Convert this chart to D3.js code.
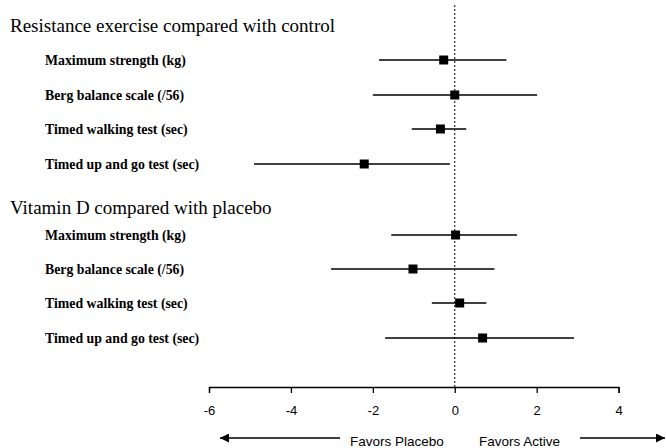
<!DOCTYPE html>
<html><head><meta charset="utf-8">
<script src="https://cdn.jsdelivr.net/npm/d3@7"></script>
<style>body{margin:0;background:#fff}svg{display:block}</style>
</head><body>
<script>
const groupTitles = ["Resistance exercise compared with control", "Vitamin D compared with placebo"];
const outcomes = ["Maximum strength (kg)", "Berg balance scale (/56)", "Timed walking test (sec)", "Timed up and go test (sec)"];
const resistanceEst = [-0.27, 0.0, -0.35, -2.21];
const resistanceLo  = [-1.85, -2.0, -1.05, -4.9];
const resistanceHi  = [1.26, 2.01, 0.28, -0.12];
const vitaminDEst = [0.02, -1.02, 0.12, 0.68];
const vitaminDLo  = [-1.55, -3.02, -0.56, -1.70];
const vitaminDHi  = [1.52, 0.97, 0.77, 2.91];
const xTicks = [-6, -4, -2, 0, 2, 4];
const favorLabels = ["Favors Placebo", "Favors Active"];

const W = 666, H = 448;
const svg = d3.select("body").append("svg").attr("width", W).attr("height", H);

const x = d3.scaleLinear().domain([-6, 4]).range([209, 618.6]);

const rowY = {t0: 25, r0_0: 60, r0_1: 95, r0_2: 129, r0_3: 164,
              t1: 207, r1_0: 235, r1_1: 269, r1_2: 303, r1_3: 338};

// reference line at 0
svg.append("line")
  .attr("x1", x(0)).attr("x2", x(0)).attr("y1", 5).attr("y2", 387)
  .attr("stroke", "#000").attr("stroke-width", 1).attr("stroke-dasharray", "2,2");

const groups = [
  {est: resistanceEst, lo: resistanceLo, hi: resistanceHi},
  {est: vitaminDEst, lo: vitaminDLo, hi: vitaminDHi}
];

groups.forEach((g, gi) => {
  svg.append("text").attr("x", 10).attr("y", rowY["t" + gi]).attr("dy", "0.35em")
    .style("font-family", "'Liberation Serif', 'Times New Roman', serif")
    .style("font-size", "19px").text(groupTitles[gi]);
  const data = outcomes.map((o, i) => ({o, i, est: g.est[i], lo: g.lo[i], hi: g.hi[i], y: rowY["r" + gi + "_" + i]}));
  const gg = svg.append("g");
  gg.selectAll("text.lab").data(data).join("text").attr("class", "lab")
    .attr("x", 45).attr("y", d => d.y).attr("dy", "0.35em")
    .style("font-family", "'Liberation Serif', 'Times New Roman', serif")
    .style("font-size", "13.8px").style("font-weight", "bold").text(d => d.o);
  gg.selectAll("line.ci").data(data).join("line").attr("class", "ci")
    .attr("x1", d => x(d.lo)).attr("x2", d => x(d.hi))
    .attr("y1", d => d.y).attr("y2", d => d.y)
    .attr("stroke", "#000").attr("stroke-width", 1.4);
  gg.selectAll("rect.pt").data(data).join("rect").attr("class", "pt")
    .attr("x", d => x(d.est) - 4.5).attr("y", d => d.y - 4.5)
    .attr("width", 9).attr("height", 9).attr("fill", "#000");
});

// axis
const axis = d3.axisBottom(x).tickValues(xTicks).tickSize(6).tickSizeOuter(6).tickPadding(13)
  .tickFormat(d => String(d));
const ag = svg.append("g").attr("transform", "translate(0,387)").call(axis);
ag.selectAll("path,line").attr("stroke", "#000").attr("stroke-width", 1.3);
ag.selectAll("text").style("font-family", "'Liberation Sans', Arial, sans-serif")
  .style("font-size", "13px").attr("fill", "#000");

// favors labels and arrows
const ay = 438;
const defs = svg.append("defs");
defs.append("marker").attr("id", "ah").attr("viewBox", "0 0 10 10").attr("refX", 10).attr("refY", 5)
  .attr("markerWidth", 11).attr("markerHeight", 9).attr("markerUnits", "userSpaceOnUse")
  .attr("orient", "auto").append("path").attr("d", "M0,0L10,5L0,10Z").attr("fill", "#000");

svg.append("line").attr("x1", 340).attr("x2", 220).attr("y1", ay).attr("y2", ay)
  .attr("stroke", "#000").attr("stroke-width", 1.3).attr("marker-end", "url(#ah)");
svg.append("line").attr("x1", 580).attr("x2", 665).attr("y1", ay).attr("y2", ay)
  .attr("stroke", "#000").attr("stroke-width", 1.3).attr("marker-end", "url(#ah)");
svg.append("text").attr("x", 350).attr("y", 445.5)
  .style("font-family", "'Liberation Sans', Arial, sans-serif").style("font-size", "13.5px")
  .text(favorLabels[0]);
svg.append("text").attr("x", 479).attr("y", 445.5)
  .style("font-family", "'Liberation Sans', Arial, sans-serif").style("font-size", "13.5px")
  .text(favorLabels[1]);
</script>
</body></html>
